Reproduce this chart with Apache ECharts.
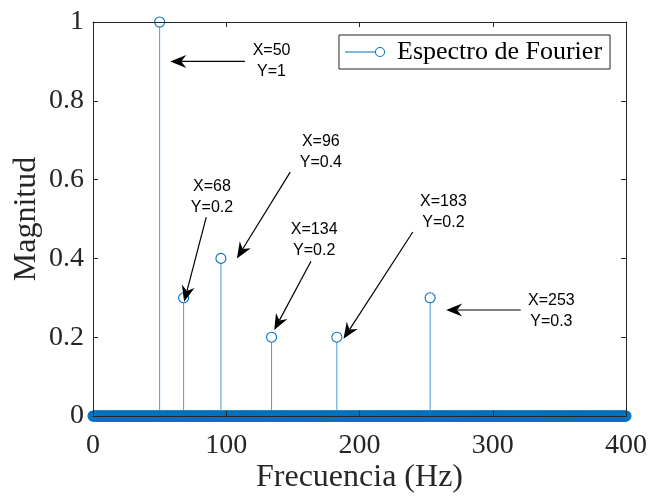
<!DOCTYPE html>
<html>
<head>
<meta charset="utf-8">
<script src="https://cdn.jsdelivr.net/npm/echarts@6/dist/echarts.min.js"></script>
<style>
  html, body { margin: 0; padding: 0; background: #fff; }
  #chart { width: 649px; height: 496px; }
</style>
</head>
<body>
<div id="chart"></div>
<script>
// Frequency grid (Hz) and the spectral peaks on it
const freqMin = 0;
const freqMax = 400;
const freqStep = 0.5;
const peakFreqs = [50, 68, 96, 134, 183, 253];
const peakMags = [1, 0.3, 0.4, 0.2, 0.2, 0.3];

// Axis ticks
const xTicks = [0, 100, 200, 300, 400];
const yTicks = [0, 0.2, 0.4, 0.6, 0.8, 1];

// Data-tip callouts: text, text centre, arrow tail and arrow tip (data units)
const noteTexts = ['X=50\nY=1', 'X=68\nY=0.2', 'X=96\nY=0.4', 'X=134\nY=0.2', 'X=183\nY=0.2', 'X=253\nY=0.3'];
const noteTextPos = [[134, 0.90], [89.3, 0.555], [171, 0.670], [166, 0.447], [263, 0.518], [344, 0.266]];
const noteTail = [[114, 0.90], [85, 0.505], [148, 0.619], [163.6, 0.393], [240, 0.467], [321, 0.269]];
const noteTip = [[58, 0.90], [68.4, 0.29], [108, 0.40], [136, 0.218], [188, 0.196], [265, 0.269]];

// Full spectrum: zero everywhere except at the peaks
const spectrum = [];
for (let f = freqMin; f <= freqMax; f += freqStep) {
  const k = peakFreqs.indexOf(f);
  spectrum.push([f, k >= 0 ? peakMags[k] : 0]);
}

const BLUE = '#0072BD';
const AXIS = '#262626';
const SERIF = '"Liberation Serif", "Times New Roman", serif';
const SANS = '"Liberation Sans", Arial, sans-serif';
const MARKER_R = 5;
const SERIES_NAME = 'Espectro de Fourier';

const chart = echarts.init(document.getElementById('chart'), null, { renderer: 'canvas' });

function axisCommon(pos, showLabel) {
  return {
    type: 'value',
    position: pos,
    z: 10,
    axisLine: { show: true, onZero: false, lineStyle: { color: AXIS, width: 1 } },
    axisTick: { show: true, inside: true, length: 5, lineStyle: { color: AXIS, width: 1 } },
    splitLine: { show: false },
    axisLabel: {
      show: showLabel,
      color: AXIS,
      fontFamily: SERIF,
      fontSize: 28
    }
  };
}

const xBottom = Object.assign(axisCommon('bottom', true), {
  min: xTicks[0], max: xTicks[xTicks.length - 1], interval: xTicks[1] - xTicks[0],
  name: 'Frecuencia (Hz)', nameLocation: 'middle', nameGap: 46, nameMoveOverlap: false,
  nameTextStyle: { color: AXIS, fontFamily: SERIF, fontSize: 32 }
});
xBottom.axisLabel.margin = 16;
const xTop = Object.assign(axisCommon('top', false), {
  min: xTicks[0], max: xTicks[xTicks.length - 1], interval: xTicks[1] - xTicks[0]
});
const yLeft = Object.assign(axisCommon('left', true), {
  min: yTicks[0], max: yTicks[yTicks.length - 1], interval: yTicks[1] - yTicks[0],
  name: 'Magnitud', nameLocation: 'middle', nameGap: 50, nameMoveOverlap: false,
  nameTextStyle: { color: AXIS, fontFamily: SERIF, fontSize: 32 }
});
yLeft.axisLabel.margin = 9;
const yRight = Object.assign(axisCommon('right', false), {
  min: yTicks[0], max: yTicks[yTicks.length - 1], interval: yTicks[1] - yTicks[0]
});

// Legend glyph: short line running into an open circle
const legendIcon = 'path://M0 4.5L30 4.5L30 5.5L0 5.5Z' +
  'M40 5A5 5 0 1 0 30 5A5 5 0 1 0 40 5Z' +
  'M39 5A4 4 0 1 1 31 5A4 4 0 1 1 39 5Z';

chart.setOption({
  animation: false,
  backgroundColor: '#fff',
  grid: { left: 93, right: 23, top: 22, bottom: 80, containLabel: false, outerBoundsMode: 'none' },
  xAxis: [xBottom, xTop],
  yAxis: [yLeft, yRight],
  legend: {
    left: 339, top: 35,
    orient: 'vertical',
    padding: [4, 8, 4, 6],
    borderColor: AXIS, borderWidth: 1, backgroundColor: '#fff',
    itemWidth: 40, itemHeight: 10,
    data: [{ name: SERIES_NAME, icon: legendIcon }],
    itemStyle: { color: BLUE, borderWidth: 0 },
    textStyle: { color: '#000', fontFamily: SERIF, fontSize: 26, padding: [0, 0, 0, 7] }
  },
  series: [
    {
      // stem plot: a line from the baseline to each sample plus an open circle
      name: SERIES_NAME,
      type: 'custom',
      xAxisIndex: 0, yAxisIndex: 0,
      data: spectrum,
      silent: true,
      clip: false,
      z: 3,
      renderItem: function (params, api) {
        const p0 = api.coord([api.value(0), 0]);
        const p1 = api.coord([api.value(0), api.value(1)]);
        const children = [];
        if (api.value(1) !== 0) {
          children.push({
            type: 'line',
            shape: { x1: p0[0], y1: p0[1], x2: p1[0], y2: p1[1] + MARKER_R },
            style: { stroke: '#4a9ad6', lineWidth: 1 }
          });
        }
        children.push({
          type: 'circle',
          shape: { cx: p1[0], cy: p1[1], r: MARKER_R },
          style: { fill: 'none', stroke: BLUE, lineWidth: 1.1 }
        });
        return { type: 'group', children: children };
      }
    }
  ]
});

// Callouts with arrows, placed in data coordinates
function buildNotes() {
  const els = [];
  for (let i = 0; i < noteTexts.length; i++) {
    const t = chart.convertToPixel({ gridIndex: 0 }, noteTextPos[i]);
    const a = chart.convertToPixel({ gridIndex: 0 }, noteTail[i]);
    const b = chart.convertToPixel({ gridIndex: 0 }, noteTip[i]);
    const dx = b[0] - a[0], dy = b[1] - a[1];
    const len = Math.sqrt(dx * dx + dy * dy);
    const ux = dx / len, uy = dy / len;
    const nx = -uy, ny = ux;
    const L = 16, W = 6.5, N = 11;
    els.push({
      type: 'text', x: t[0], y: t[1], z: 20,
      style: {
        text: noteTexts[i], align: 'center', verticalAlign: 'middle',
        font: '16px ' + SANS, lineHeight: 21, fill: '#000'
      }
    });
    els.push({
      type: 'line', z: 20,
      shape: { x1: a[0], y1: a[1], x2: b[0] - ux * N, y2: b[1] - uy * N },
      style: { stroke: '#000', lineWidth: 1.2 }
    });
    els.push({
      type: 'polygon', z: 20,
      shape: {
        points: [
          [b[0], b[1]],
          [b[0] - ux * L + nx * W, b[1] - uy * L + ny * W],
          [b[0] - ux * N, b[1] - uy * N],
          [b[0] - ux * L - nx * W, b[1] - uy * L - ny * W]
        ]
      },
      style: { fill: '#000' }
    });
  }
  chart.setOption({ graphic: els });
}
buildNotes();
</script>
</body>
</html>
